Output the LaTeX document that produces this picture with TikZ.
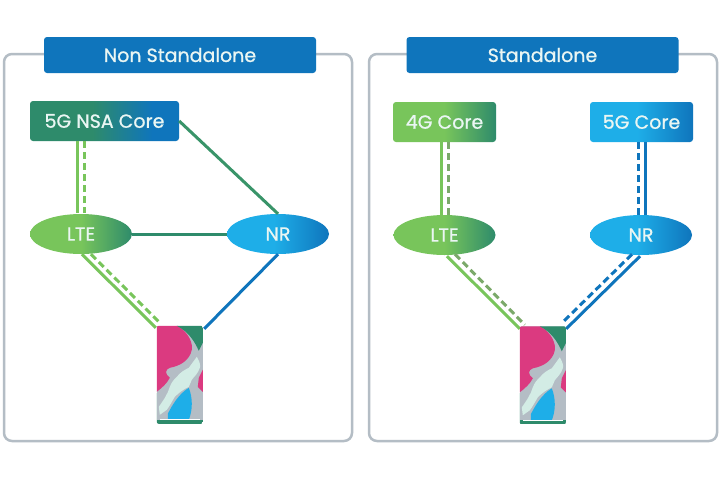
\documentclass[tikz,border=0pt]{standalone}
\usepackage{fontspec}
\setmainfont{Poppins}[FakeBold=0.9]
\usetikzlibrary{shapes.geometric}
\definecolor{framegray}{HTML}{B4BDC5}
\definecolor{samblue}{HTML}{0F75BC}
\definecolor{skyblue}{HTML}{1EAEE8}
\definecolor{leafgreen}{HTML}{78C55B}
\definecolor{tealgreen}{HTML}{2E8B6B}
\definecolor{rosepink}{HTML}{DB3A80}
\definecolor{mistwhite}{HTML}{D3ECE5}
\definecolor{textwhite}{HTML}{EAF6F3}
% the node covers 25bp to 75bp of these
\pgfdeclarehorizontalshading{tealblue}{100bp}{color(0bp)=(tealgreen); color(46bp)=(tealgreen); color(66bp)=(samblue); color(100bp)=(samblue)}
\pgfdeclarehorizontalshading{greenteal}{100bp}{color(0bp)=(leafgreen); color(50bp)=(leafgreen); color(75bp)=(tealgreen); color(100bp)=(tealgreen)}
\pgfdeclarehorizontalshading{skysam}{100bp}{color(0bp)=(skyblue); color(48bp)=(skyblue); color(75bp)=(samblue); color(100bp)=(samblue)}
\tikzset{
  panel/.style={draw=framegray, line width=2.5pt, rounded corners=8pt},
  titlebox/.style={fill=samblue, rounded corners=3pt, minimum width=272pt, minimum height=36pt, inner sep=0pt,
    text=textwhite, font=\fontsize{19}{22}\selectfont},
  corebox/.style={rounded corners=3pt, minimum height=40pt, inner sep=0pt, text=textwhite, font=\fontsize{19}{22}\selectfont},
  cell/.style={ellipse, minimum width=102pt, minimum height=40pt, inner sep=0pt, text=textwhite, font=\fontsize{19}{22}\selectfont},
  link/.style={line width=3pt},
  dashlink/.style={line width=3pt, dash pattern=on 7pt off 4pt},
  phonebox/.style={minimum width=46pt, minimum height=98pt, inner sep=0pt},
}
\begin{document}
\begin{tikzpicture}[x=1pt, y=-1pt]
\useasboundingbox (0,0) rectangle (720,480);
\fill[white] (0,0) rectangle (720,480);
\draw[panel] (4,54) rectangle (352,441);
\draw[panel] (369,54) rectangle (717,441);
\node[titlebox] (nsatitle) at (180,55) {Non Standalone};
\node[titlebox] (satitle) at (542.5,55) {Standalone};
% non standalone
\node[corebox, shading=tealblue, minimum width=149pt] (nsacore) at (104.5,121) {5G NSA Core};
\node[cell, shading=greenteal] (nsalte) at (81,234) {LTE};
\node[cell, shading=skysam] (nsanr) at (278,234) {NR};
\node[phonebox] (nsaphone) at (180,375) {};
\draw[link, leafgreen] ([xshift=-27.5pt]nsacore.south) -- ([xshift=-4pt,yshift=0.4pt]nsalte.north);
\draw[dashlink, leafgreen] ([xshift=-20.5pt]nsacore.south) -- ([xshift=3pt,yshift=0.4pt]nsalte.north);
\draw[link, tealgreen!85!leafgreen] (nsacore.east) -- (nsanr.north);
\draw[link, tealgreen] (nsalte.east) -- (nsanr.west);
\draw[link, leafgreen] ([xshift=1pt]nsalte.south) -- ([xshift=-1pt,yshift=-2pt]nsaphone.north west);
\draw[dashlink, leafgreen] ([xshift=10pt]nsalte.south) -- ([xshift=3pt,yshift=3pt]nsaphone.north west);
\draw[link, samblue] (nsanr.south) -- ([xshift=1pt,yshift=-3pt]nsaphone.north east);
% standalone
\node[corebox, shading=greenteal, minimum width=103pt] (sacore) at (444.5,122) {4G Core};
\node[corebox, shading=skysam, minimum width=103pt] (fivecore) at (641.5,122) {5G Core};
\node[cell, shading=greenteal] (salte) at (444.5,235) {LTE};
\node[cell, shading=skysam] (sanr) at (641,235) {NR};
\node[phonebox] (saphone) at (543,375.5) {};
\draw[link, leafgreen] ([xshift=-3.5pt]sacore.south) -- ([xshift=-3.5pt]salte.north);
\draw[dashlink, leafgreen!60!gray] ([xshift=3.5pt]sacore.south) -- ([xshift=3.5pt]salte.north);
\draw[link, samblue] ([xshift=3.5pt]fivecore.south) -- ([xshift=4pt]sanr.north);
\draw[dashlink, samblue] ([xshift=-3.5pt]fivecore.south) -- ([xshift=-3pt]sanr.north);
\draw[link, leafgreen] ([xshift=2.5pt,yshift=-1pt]salte.south) -- ([yshift=-2.5pt]saphone.north west);
\draw[dashlink, leafgreen!60!gray] ([xshift=10.5pt,yshift=1pt]salte.south) -- ([xshift=5pt,yshift=1.5pt]saphone.north west);
\draw[link, samblue] ([xshift=-1pt,yshift=-1pt]sanr.south) -- ([yshift=-2.5pt]saphone.north east);
\draw[dashlink, samblue] ([xshift=-9pt,yshift=1pt]sanr.south) -- ([xshift=-3pt,yshift=4.5pt]saphone.north east);
% wallpaper of both phones, in local pixels
\foreach \p in {nsaphone,saphone} {
  \begin{scope}[shift={(\p.north west)}]
    \clip[rounded corners=2pt] (0,0) rectangle (46,98);
    \fill[framegray] (0,0) rectangle (46,98);
    \fill[rosepink] (0,0) -- (21,0) .. controls (33,8) and (36,18) .. (35,24) .. controls (33,34) and (24,40) .. (13,42) .. controls (8,44) and (8,48) .. (13,52) .. controls (10,58) and (5,62) .. (0,66) -- cycle;
    \fill[rosepink] (46,44) -- (42,52) -- (41,61) -- (46,66) -- cycle;
    \fill[tealgreen] (20,0) -- (46,0) -- (46,17) -- (42,25) .. controls (38,16) and (32,6) .. (20,0) -- cycle;
    \fill[mistwhite] (40,31) .. controls (43,36) and (44,40) .. (43,42) .. controls (41,48) and (38,50) .. (35,54) -- (32,61) .. controls (26,64) and (22,67) .. (18,71) .. controls (15,76) and (13,80) .. (10,84) -- (3,89) -- (2,81) .. controls (7,74) and (11,68) .. (13,61) .. controls (15,56) and (17,54) .. (20,51) .. controls (24,46) and (28,44) .. (32,42) -- cycle;
    \fill[skyblue] (32,62) .. controls (36,72) and (36,84) .. (32,94) -- (11,94) -- (11,88) .. controls (15,80) and (22,68) .. (32,62) -- cycle;
    \fill[tealgreen] (0,94) rectangle (46,98);
    \draw[tealgreen, line width=1pt] (0,67) -- (0,98);
    \draw[white, line width=0.6pt] (3,93.7) -- (43,93.7);
  \end{scope}
}
\end{tikzpicture}
\end{document}
